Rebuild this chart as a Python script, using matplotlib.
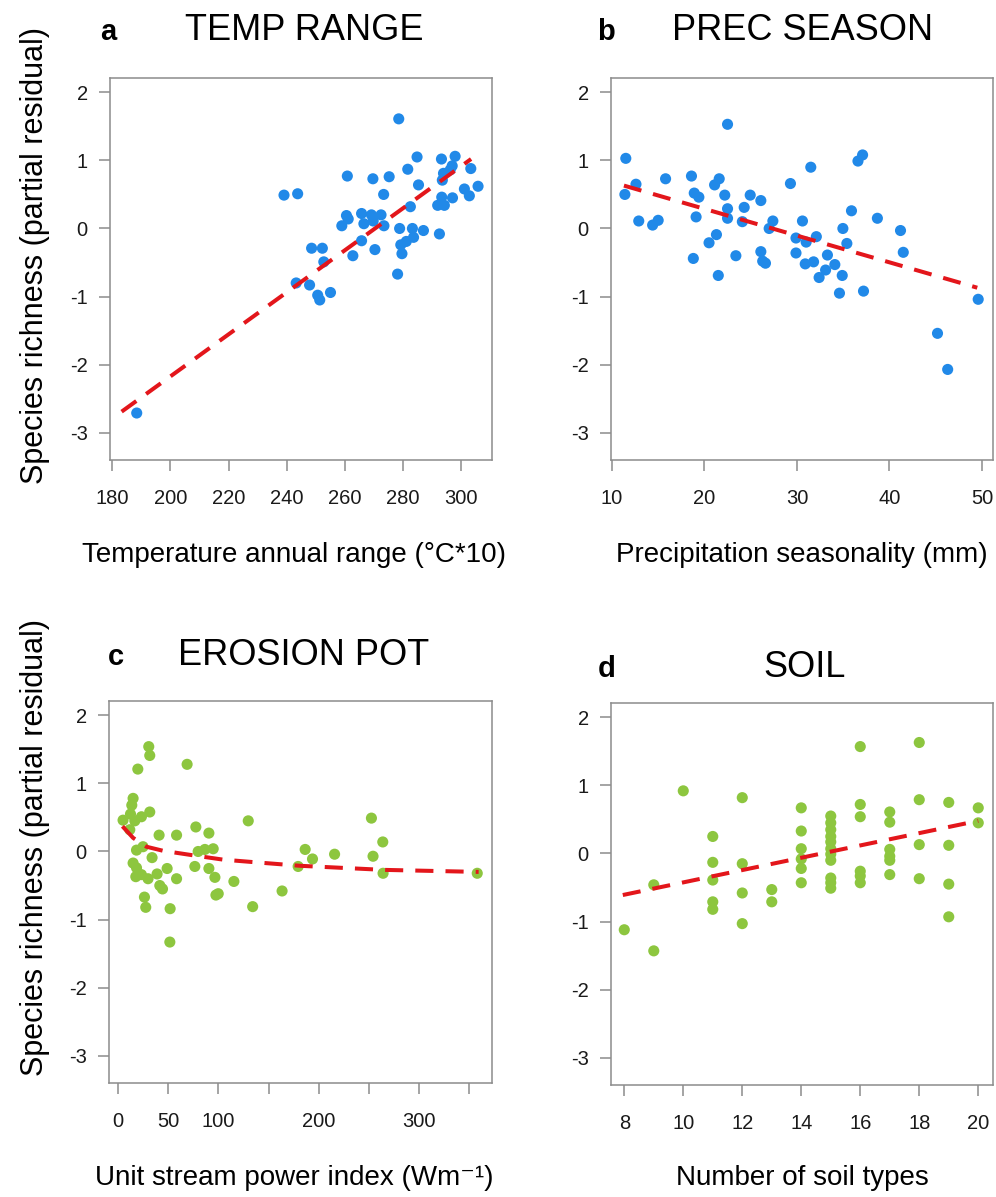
import numpy as np
import matplotlib
matplotlib.use("Agg")
import matplotlib.pyplot as plt

plt.rcParams["font.family"] = ["Liberation Sans", "DejaVu Sans"]
plt.rcParams["axes.unicode_minus"] = False

# panel a: temperature annual range
a_x = [188.4, 239.1, 243.8, 243.3, 247.9, 248.6, 252.3, 252.8, 250.7, 251.4, 255.1,
       259.0, 260.6, 261.2, 260.9, 262.8, 265.8, 266.6, 265.8, 269.2, 269.8, 270.4,
       269.7, 272.5, 273.5, 273.4, 275.3, 278.6, 278.9, 279.3, 279.7, 278.2, 281.2,
       283.3, 283.7, 281.7, 282.6, 285.4, 284.9, 287.1, 292.0, 292.6, 293.4, 294.3,
       293.6, 293.3, 294.0, 296.3, 297.0, 298.0, 297.1, 301.2, 302.9, 303.4, 305.9]
a_y = [-2.71, 0.49, 0.51, -0.80, -0.83, -0.29, -0.29, -0.49, -0.98, -1.05, -0.94,
       0.04, 0.19, 0.14, 0.77, -0.40, 0.22, 0.07, -0.18, 0.20, 0.11, -0.31,
       0.73, 0.20, 0.04, 0.50, 0.76, 1.61, 0.00, -0.24, -0.37, -0.67, -0.19,
       0.00, -0.13, 0.87, 0.32, 0.64, 1.05, -0.03, 0.34, -0.08, 0.46, 0.34,
       0.71, 1.02, 0.81, 0.86, 0.92, 1.06, 0.45, 0.58, 0.48, 0.88, 0.62]
a_fit_x = [183.2, 303.5]
a_fit_y = [-2.69, 1.02]

# panel b: precipitation seasonality
b_x = [11.5, 11.4, 12.6, 12.9, 14.4, 15.0, 15.8, 18.6, 18.8, 18.9, 19.4, 19.1,
       21.1, 21.6, 22.5, 22.2, 22.5, 22.5, 21.3, 20.5, 21.5, 23.4, 24.3, 24.1,
       24.95, 26.1, 26.1, 26.3, 26.6, 27.0, 27.4, 29.3, 29.9, 29.9, 30.6, 31.0,
       30.9, 31.5, 31.8, 32.1, 32.4, 33.1, 33.3, 34.1, 34.6, 34.9, 34.97, 35.4,
       35.9, 36.6, 37.1, 37.2, 38.7, 41.2, 41.5, 45.2, 46.3, 49.6]
b_y = [1.03, 0.50, 0.65, 0.11, 0.05, 0.12, 0.73, 0.77, -0.44, 0.52, 0.46, 0.17,
       0.64, 0.73, 1.53, 0.49, 0.29, 0.15, -0.09, -0.21, -0.69, -0.40, 0.31, 0.10,
       0.49, 0.41, -0.34, -0.48, -0.51, 0.00, 0.11, 0.66, -0.14, -0.36, 0.11, -0.20,
       -0.52, 0.90, -0.49, -0.12, -0.72, -0.61, -0.39, -0.53, -0.95, -0.69, 0.00, -0.22,
       0.26, 0.99, 1.08, -0.92, 0.15, -0.03, -0.35, -1.54, -2.07, -1.04]
b_fit_x = [11.3, 49.5]
b_fit_y = [0.63, -0.87]

# panel c: erosion potential
c_x = [30.6, 31.6, 19.7, 68.8, 15.0, 13.7, 5.0, 12.4, 16.7, 23.3, 31.6, 11.7,
       129.7, 77.5, 90.5, 40.9, 58.3, 18.4, 24.9, 33.9, 79.8, 86.5, 94.8, 15.0,
       18.4, 17.7, 23.3, 29.9, 38.9, 48.9, 41.6, 44.3, 58.3, 76.5, 90.5, 96.5,
       115.4, 97.5, 99.8, 26.3, 27.6, 51.9, 134.1, 51.6, 252.4, 263.7, 254.0,
       264.0, 357.8, 186.4, 193.7, 215.7, 179.4, 163.4]
c_y = [1.54, 1.41, 1.21, 1.28, 0.78, 0.68, 0.46, 0.55, 0.45, 0.51, 0.58, 0.32,
       0.45, 0.36, 0.27, 0.24, 0.24, 0.02, 0.07, -0.09, 0.00, 0.03, 0.04, -0.17,
       -0.24, -0.37, -0.34, -0.40, -0.33, -0.25, -0.50, -0.55, -0.40, -0.22, -0.25, -0.38,
       -0.44, -0.64, -0.62, -0.67, -0.82, -0.84, -0.81, -1.33, 0.49, 0.14, -0.07,
       -0.32, -0.32, 0.03, -0.11, -0.04, -0.22, -0.58]
c_fit_x = [4.4, 15.0, 28.3, 44.9, 76.5, 104.8, 138.1, 181.2, 264.4, 359.2]
c_fit_y = [0.37, 0.20, 0.07, 0.01, -0.06, -0.12, -0.16, -0.21, -0.27, -0.30]

# panel d: number of soil types
d_x = [8, 9, 9, 10,
       11, 11, 11, 11, 11,
       12, 12, 12, 12,
       13, 13,
       14, 14, 14, 14, 14, 14,
       15, 15, 15, 15, 15, 15, 15, 15, 15, 15, 15,
       16, 16, 16, 16, 16, 16,
       17, 17, 17, 17, 17, 17,
       18, 18, 18, 18,
       19, 19, 19, 19,
       20, 20]
d_y = [-1.12, -0.46, -1.43, 0.92,
       0.25, -0.13, -0.39, -0.71, -0.82,
       0.82, -0.15, -0.58, -1.03,
       -0.53, -0.71,
       0.67, 0.33, 0.07, -0.08, -0.22, -0.43,
       0.55, 0.45, 0.35, 0.25, 0.17, 0.07, -0.01, -0.10, -0.36, -0.43, -0.51,
       1.57, 0.72, 0.54, -0.26, -0.33, -0.43,
       0.61, 0.46, 0.06, -0.04, -0.10, -0.31,
       1.63, 0.79, 0.13, -0.37,
       0.75, 0.12, -0.45, -0.93,
       0.67, 0.45]
d_fit_x = [7.95, 20.0]
d_fit_y = [-0.61, 0.48]

blue = "#2189E8"
green = "#8DC63F"
red = "#E3161B"
grey = "#8C8C8C"

W, H = 996, 1197
fig = plt.figure(figsize=(W / 100, H / 100), dpi=100)


def add_panel(left, top, w, h):
    return fig.add_axes([left / W, 1 - (top + h) / H, w / W, h / H])


def fig_text(x, y, s, **kw):
    fig.text(x / W, 1 - y / H, s, **kw)


panels = [
    (add_panel(110, 78, 382, 382), a_x, a_y, a_fit_x, a_fit_y, blue, (179.2, 310.7)),
    (add_panel(611, 78, 382, 382), b_x, b_y, b_fit_x, b_fit_y, blue, (9.9, 51.2)),
    (add_panel(109, 701, 383, 382), c_x, c_y, c_fit_x, c_fit_y, green, (-9.0, 372.5)),
    (add_panel(611, 703, 382, 382), d_x, d_y, d_fit_x, d_fit_y, green, (7.55, 20.5)),
]

for ax, x, y, fx, fy, col, xl in panels:
    ax.scatter(x, y, s=64, color=col, edgecolors="none", zorder=2)
    ax.plot(fx, fy, color=red, lw=2.9, dashes=(4.5, 3), zorder=3)
    ax.set_xlim(*xl)
    ax.set_ylim(-3.40, 2.21)
    ax.set_yticks([-3, -2, -1, 0, 1, 2])
    for sp in ax.spines.values():
        sp.set_color(grey)
        sp.set_linewidth(1.1)
    ax.tick_params(axis="both", colors=grey, labelcolor="#1a1a1a", labelsize=14.5,
                   length=8, width=1.1)
    ax.tick_params(axis="x", pad=13)
    ax.tick_params(axis="y", pad=8)

panels[0][0].set_xticks(np.arange(180, 301, 20))
panels[1][0].set_xticks([10, 20, 30, 40, 50])
panels[2][0].set_xticks(np.arange(0, 351, 50))
panels[2][0].set_xticklabels(["0", "50", "100", "", "200", "", "300", ""])
panels[3][0].set_xticks(np.arange(8, 21, 2))

# panel letters and titles
fig_text(100, 40, "a", fontsize=21, fontweight="bold", ha="left", va="baseline")
fig_text(304, 40, "TEMP RANGE", fontsize=26, ha="center", va="baseline")
fig_text(597, 40, "b", fontsize=21, fontweight="bold", ha="left", va="baseline")
fig_text(803, 40, "PREC SEASON", fontsize=26, ha="center", va="baseline")
fig_text(108, 665, "c", fontsize=21, fontweight="bold", ha="left", va="baseline")
fig_text(304, 665, "EROSION POT", fontsize=26, ha="center", va="baseline")
fig_text(598, 677, "d", fontsize=21, fontweight="bold", ha="left", va="baseline")
fig_text(805, 677, "SOIL", fontsize=26, ha="center", va="baseline")

# axis labels
fig_text(294, 562, "Temperature annual range (°C*10)", fontsize=20, ha="center", va="baseline")
fig_text(802, 562, "Precipitation seasonality (mm)", fontsize=20, ha="center", va="baseline")
fig_text(294, 1185, "Unit stream power index (Wm⁻¹)", fontsize=20, ha="center", va="baseline")
fig_text(802, 1185, "Number of soil types", fontsize=20, ha="center", va="baseline")
fig_text(35, 256, "Species richness (partial residual)", fontsize=22, rotation=90,
         ha="center", va="center")
fig_text(35, 848, "Species richness (partial residual)", fontsize=22, rotation=90,
         ha="center", va="center")

fig.savefig("out.png", dpi=100)
